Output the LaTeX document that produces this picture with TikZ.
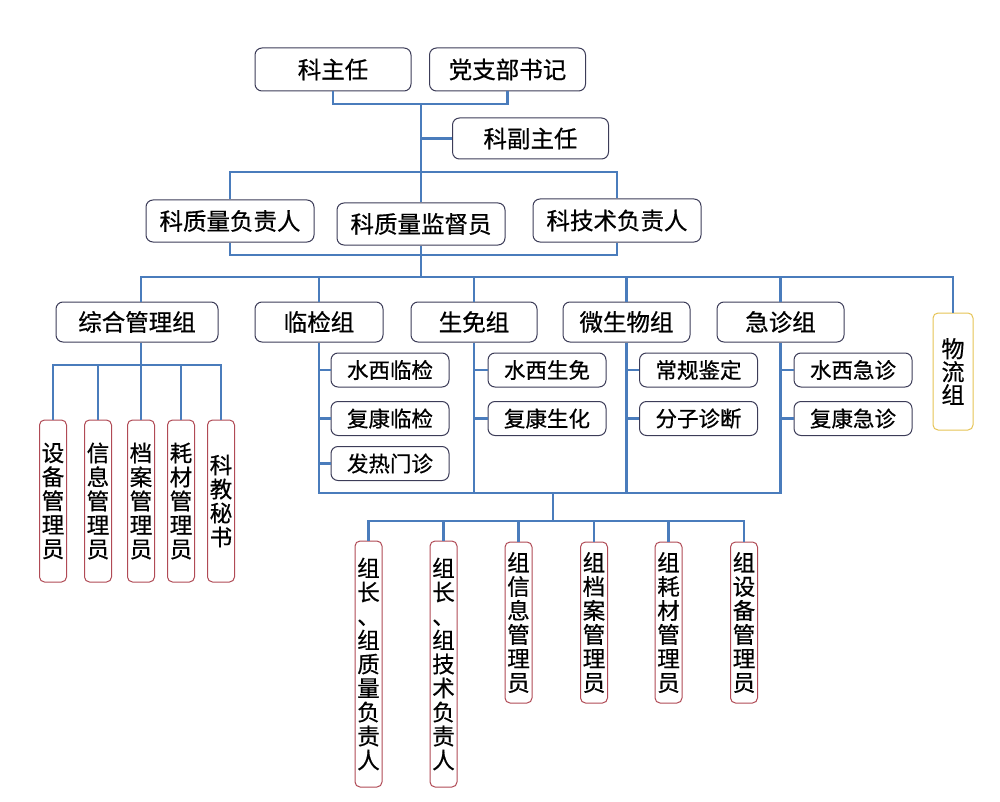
\documentclass[tikz,border=0pt]{standalone}
\usepackage{fontspec}
\newfontfamily\cjk[FakeBold=0.6]{Noto Sans CJK SC}
\definecolor{boxc}{HTML}{3C3C58}
\definecolor{redc}{HTML}{B04A55}
\definecolor{yelc}{HTML}{E6C455}
\definecolor{linec}{HTML}{4A7CBC}
\begin{document}
\begin{tikzpicture}[x=1pt,y=-1pt,
  box/.style={draw=boxc, line width=1pt, rounded corners=7pt, fill=white, inner sep=0pt, font=\cjk\fontsize{23.5}{23.5}\selectfont},
  topbox/.style={box, minimum width=156pt, minimum height=43pt},
  midbox/.style={box, minimum width=168pt, minimum height=42pt},
  grp/.style={box, minimum width=127pt, minimum height=40pt},
  sub/.style={box, minimum width=118pt, minimum height=34pt, font=\cjk\fontsize{21.5}{21.5}\selectfont},
  vbox/.style={draw=redc, line width=1pt, rounded corners=5pt, fill=white, inner sep=0pt, minimum width=27pt, align=center, font=\cjk\fontsize{22.5}{24}\selectfont},
  conn/.style={draw=linec, line width=2.1pt}]
\useasboundingbox (0,0) rectangle (1000,802);
% top
\node[topbox] (zr) at (333,69.5) {科主任};
\node[topbox] (dz) at (507.5,69.5) {党支部书记};
\node[topbox, minimum height=41pt] (fzr) at (530.5,138.5) {科副主任};
\node[midbox] (zl) at (230,221) {科质量负责人};
\node[midbox] (jd) at (421,224) {科质量监督员};
\node[midbox, minimum height=43pt] (js) at (617,220.5) {科技术负责人};
% groups
\node[grp, minimum width=162pt] (g1) at (137,322) {综合管理组};
\node[grp, minimum width=128pt] (g2) at (319,322) {临检组};
\node[grp, minimum width=126pt] (g3) at (474,322) {生免组};
\node[grp] (g4) at (626.5,322) {微生物组};
\node[grp] (g5) at (780.5,322) {急诊组};
\node[vbox, draw=yelc, minimum width=40pt, minimum height=117pt, font=\cjk\fontsize{23}{23}\selectfont] (g6) at (953,371.5) {物\\流\\组};
% sub groups
\node[sub] (s1) at (390,370) {水西临检};
\node[sub] (s2) at (390,418.5) {复康临检};
\node[sub] (s3) at (390,463.5) {发热门诊};
\node[sub] (s4) at (547,370) {水西生免};
\node[sub] (s5) at (547,418.5) {复康生化};
\node[sub] (s6) at (698.5,370) {常规鉴定};
\node[sub] (s7) at (698.5,418.5) {分子诊断};
\node[sub] (s8) at (853,370) {水西急诊};
\node[sub] (s9) at (853,418.5) {复康急诊};
% left column
\node[vbox, minimum height=162pt] (l1) at (53,501) {设\\备\\管\\理\\员};
\node[vbox, minimum height=162pt] (l2) at (98,501) {信\\息\\管\\理\\员};
\node[vbox, minimum height=162pt] (l3) at (141,501) {档\\案\\管\\理\\员};
\node[vbox, minimum height=162pt] (l4) at (181,501) {耗\\材\\管\\理\\员};
\node[vbox, minimum height=162pt] (l5) at (221,501) {科\\教\\秘\\书};
% bottom
\node[vbox, minimum height=246pt] (b1) at (368.5,664) {组\\长\\、\\组\\质\\量\\负\\责\\人};
\node[vbox, minimum height=246pt] (b2) at (443.5,664) {组\\长\\、\\组\\技\\术\\负\\责\\人};
\node[vbox, minimum height=161pt] (b3) at (518.5,622.5) {组\\信\\息\\管\\理\\员};
\node[vbox, minimum height=161pt] (b4) at (594,622.5) {组\\档\\案\\管\\理\\员};
\node[vbox, minimum height=161pt] (b5) at (668.5,622.5) {组\\耗\\材\\管\\理\\员};
\node[vbox, minimum height=161pt] (b6) at (744,622.5) {组\\设\\备\\管\\理\\员};
% connectors
\coordinate (t1) at (421,104);
\coordinate (t2) at (421,172);
\coordinate (t3) at (421,255);
\coordinate (t4) at (421,277);
\coordinate (t5) at (141,365);
\coordinate (t6) at (553,493);
\coordinate (t7) at (553,521);
\draw[conn] (zr.south) |- (t1) -| (dz.south);
\draw[conn] (t1) -- (jd.north);
\draw[conn] (fzr.west) -- (fzr.west -| t1);
\draw[conn] (zl.north) |- (t2) -| (js.north);
\draw[conn] (zl.south) |- (t3) -| (js.south);
\draw[conn] (jd.south) -- (t4);
\draw[conn] (g1.north -| l3.north) |- (t4) -| (g6.north);
\draw[conn] (g2.north) -- (g2.north |- t4);
\draw[conn] (g3.north) -- (g3.north |- t4);
\draw[conn] (g4.north) -- (g4.north |- t4);
\draw[conn] (g5.north) -- (g5.north |- t4);
\draw[conn] (g1.south -| l3.north) -- (l3.north);
\draw[conn] (l1.north) |- (t5) -| (l5.north);
\draw[conn] (l2.north) -- (l2.north |- t5);
\draw[conn] (l4.north) -- (l4.north |- t5);
\draw[conn] (s1.west) -- (s1.west -| g2.south);
\draw[conn] (s2.west) -- (s2.west -| g2.south);
\draw[conn] (s3.west) -- (s3.west -| g2.south);
\draw[conn] (s4.west) -- (s4.west -| g3.south);
\draw[conn] (s5.west) -- (s5.west -| g3.south);
\draw[conn] (s6.west) -- (s6.west -| g4.south);
\draw[conn] (s7.west) -- (s7.west -| g4.south);
\draw[conn] (s8.west) -- (s8.west -| g5.south);
\draw[conn] (s9.west) -- (s9.west -| g5.south);
\draw[conn] (g2.south) |- (t6) -| (g5.south);
\draw[conn] (g3.south) -- (g3.south |- t6);
\draw[conn] (g4.south) -- (g4.south |- t6);
\draw[conn] (t6) -- (t7);
\draw[conn] (b1.north) |- (t7) -| (b6.north);
\draw[conn] (b2.north) -- (b2.north |- t7);
\draw[conn] (b3.north) -- (b3.north |- t7);
\draw[conn] (b4.north) -- (b4.north |- t7);
\draw[conn] (b5.north) -- (b5.north |- t7);
\end{tikzpicture}
\end{document}
